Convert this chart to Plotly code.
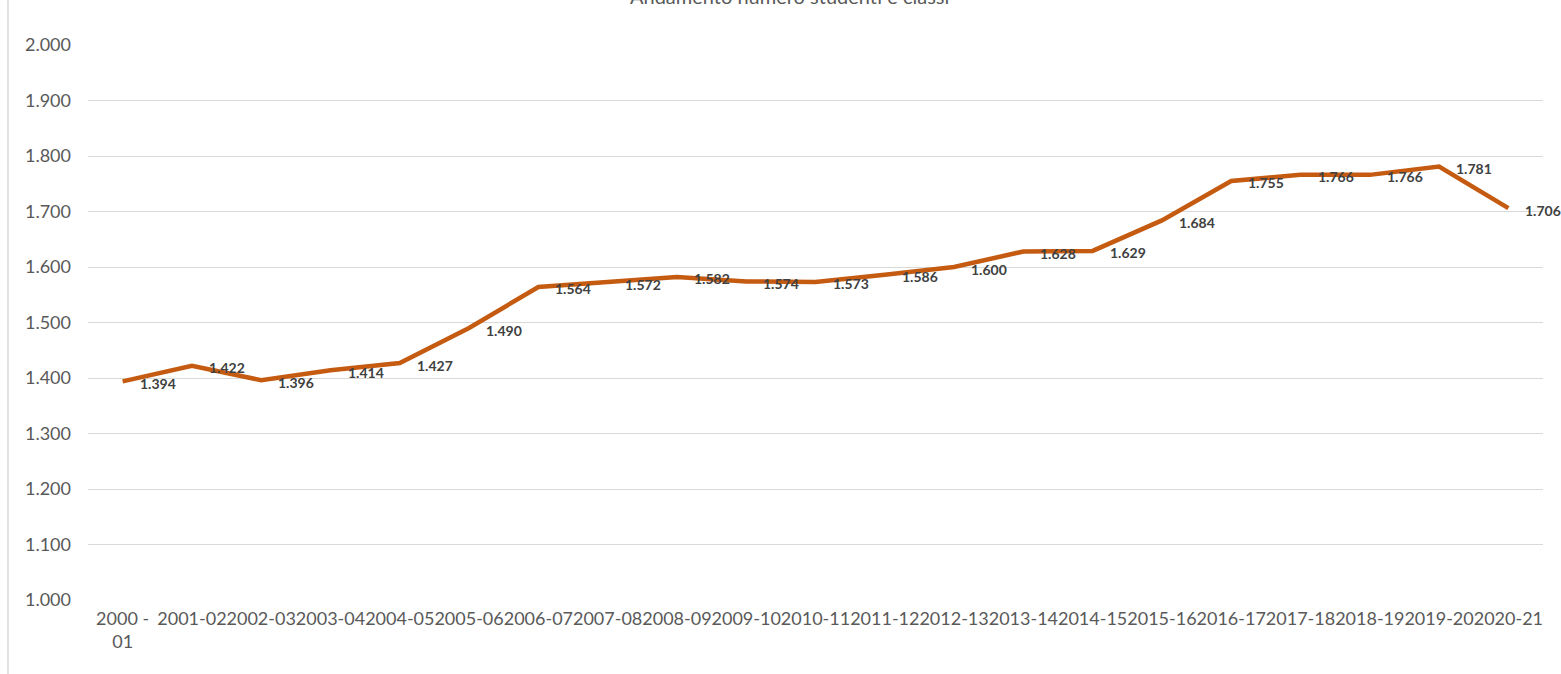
import plotly.graph_objects as go

categories = ["2000 - 01", "2001-02", "2002-03", "2003-04", "2004-05", "2005-06", "2006-07",
              "2007-08", "2008-09", "2009-10", "2010-11", "2011-12", "2012-13", "2013-14",
              "2014-15", "2015-16", "2016-17", "2017-18", "2018-19", "2019-20", "2020-21"]
tick_labels = ["2000 -<br>01"] + categories[1:]
values = [1394, 1422, 1396, 1414, 1427, 1490, 1564, 1572, 1582, 1574, 1573, 1586, 1600,
          1628, 1629, 1684, 1755, 1766, 1766, 1781, 1706]
y_ticks = [1000, 1100, 1200, 1300, 1400, 1500, 1600, 1700, 1800, 1900, 2000]
y_tick_labels = ["1.000", "1.100", "1.200", "1.300", "1.400", "1.500", "1.600", "1.700",
                 "1.800", "1.900", "2.000"]
title_text = "Andamento numero studenti e classi"

def fmt(v):
    return f"{v:,}".replace(",", ".")

fig = go.Figure()
fig.add_trace(go.Scatter(
    x=list(range(len(categories))), y=values, mode="lines",
    line=dict(color="#C55A11", width=4.5), hoverinfo="skip", showlegend=False))

for i, v in enumerate(values):
    fig.add_annotation(x=i, y=v, xref="x", yref="y", text=fmt(v), showarrow=False,
                       xanchor="left", yanchor="middle", xshift=15, yshift=-2,
                       font=dict(family="Lato", size=14, color="#404040", weight="bold"))

fig.add_annotation(x=0.482, y=1, xref="paper", yref="paper", text=title_text,
                   showarrow=False, xanchor="center", yanchor="bottom", yshift=35,
                   font=dict(family="Lato", size=20, color="#595959"))

fig.add_shape(type="line", xref="paper", yref="paper", x0=-0.055, x1=-0.055,
              y0=-0.14, y1=1.09, line=dict(color="#d9d9d9", width=1.5))

fig.update_layout(
    width=1561, height=674, autosize=False,
    margin=dict(l=88, r=18, t=45, b=74),
    plot_bgcolor="white", paper_bgcolor="white",
    xaxis=dict(tickmode="array", tickvals=list(range(len(categories))), ticktext=tick_labels,
               range=[-0.5, len(categories) - 0.5], showgrid=False, zeroline=False,
               showline=False, ticks="", ticklabelstandoff=6, tickangle=0, automargin=False,
               tickfont=dict(family="Lato", size=18, color="#595959")),
    yaxis=dict(tickmode="array", tickvals=y_ticks, ticktext=y_tick_labels,
               range=[1000, 2000], showgrid=True, gridcolor="#d9d9d9", gridwidth=1,
               zeroline=False, showline=False, ticks="", ticklabelstandoff=16, automargin=False,
               tickfont=dict(family="Lato", size=18, color="#595959")),
)

fig.write_html("out.html", config={"displayModeBar": False},
               post_script="document.body.style.margin='0';document.body.style.overflow='hidden';")
